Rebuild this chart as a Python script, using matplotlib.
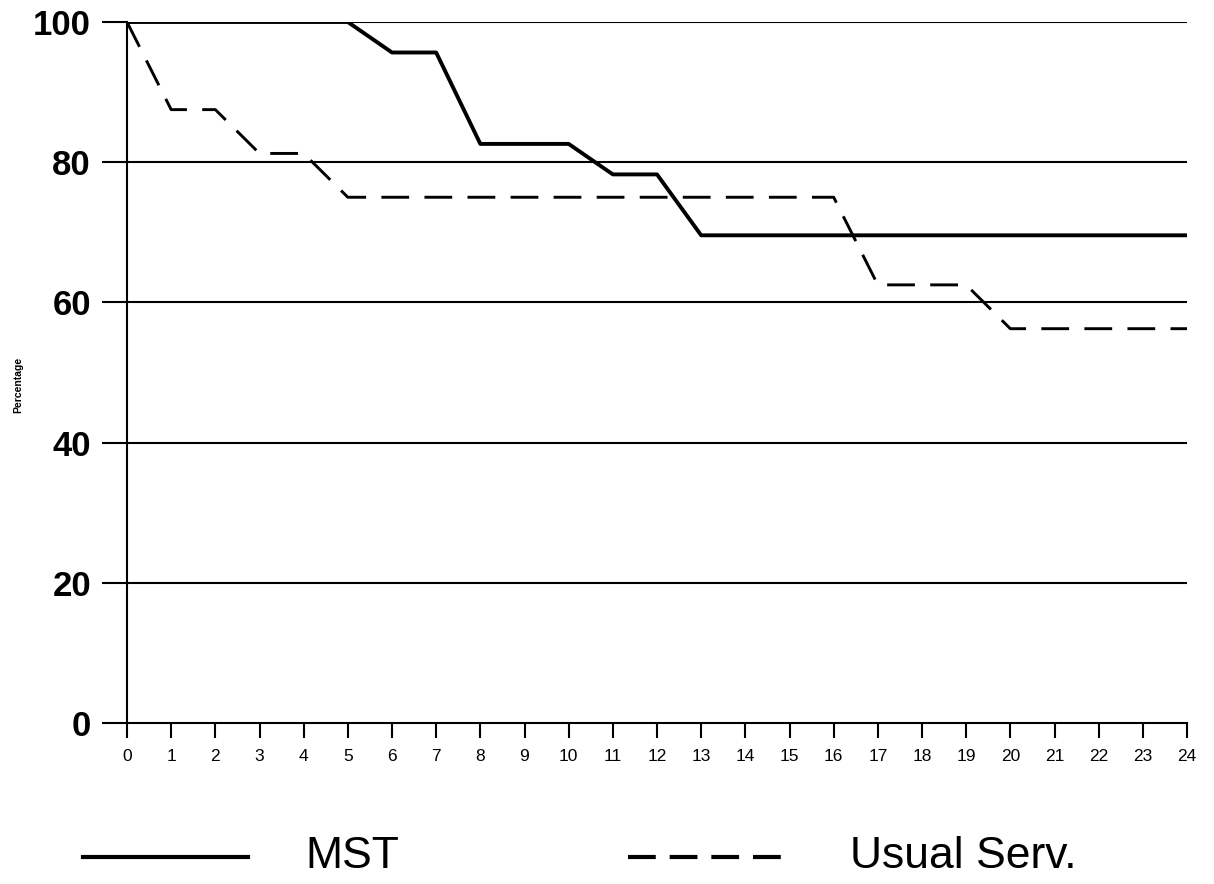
import numpy as np
import matplotlib.pyplot as plt
from matplotlib.lines import Line2D

plt.rcParams['font.family'] = ['Liberation Sans', 'DejaVu Sans']
plt.rcParams['lines.scale_dashes'] = False

# data: percentage remaining per month
months = list(range(0, 25))
mst = [100, 100, 100, 100, 100, 100, 95.65, 95.65, 82.61, 82.61, 82.61, 78.26, 78.26,
       69.57, 69.57, 69.57, 69.57, 69.57, 69.57, 69.57, 69.57, 69.57, 69.57, 69.57, 69.57]
usual = [100, 87.5, 87.5, 81.25, 81.25, 75, 75, 75, 75, 75, 75, 75, 75,
         75, 75, 75, 75, 62.5, 62.5, 62.5, 56.25, 56.25, 56.25, 56.25, 56.25]
y_ticks = [0, 20, 40, 60, 80, 100]
x_labels = [str(m) for m in months]

fig = plt.figure(figsize=(12.14, 8.84), dpi=100)
ax = fig.add_axes([127 / 1214, 1 - 723 / 884, 1060 / 1214, 701 / 884])

# horizontal grid lines
for yv in y_ticks[1:]:
    ax.axhline(yv, color='black', lw=1.5, zorder=1)

ax.plot(months, mst, color='black', lw=2.8, zorder=3)
ax.plot(months, usual, color='black', lw=2.1, dashes=(20, 11), zorder=3)

ax.set_xlim(0, 24)
ax.set_ylim(0, 100)
ax.set_xticks(months)
ax.set_xticklabels(x_labels, fontsize=12.5)
ax.set_yticks(y_ticks)
ax.set_yticklabels([str(v) for v in y_ticks], fontsize=25, fontweight='bold')
ax.tick_params(axis='y', length=18, width=1.5, pad=8)
ax.tick_params(axis='x', length=11, width=1.5, pad=8)

for s in ['top', 'right']:
    ax.spines[s].set_visible(False)
ax.spines['left'].set_linewidth(1.5)
ax.spines['bottom'].set_linewidth(1.5)

fig.text(18 / 1214, 1 - 385 / 884, 'Percentage', rotation=90, fontsize=7.5,
         fontweight='bold', ha='center', va='center')

# legend drawn below
ly = 1 - 857 / 884
fig.add_artist(Line2D([83 / 1214, 248 / 1214], [ly, ly], color='black', lw=3,
                      transform=fig.transFigure))
fig.text(305 / 1214, ly, 'MST', fontsize=32, ha='left', va='center')
fig.add_artist(Line2D([628 / 1214, 785 / 1214], [ly, ly], color='black', lw=3,
                      dashes=(20, 10), transform=fig.transFigure))
fig.text(850 / 1214, ly, 'Usual Serv.', fontsize=32, ha='left', va='center')

fig.savefig('out.png', dpi=100)
